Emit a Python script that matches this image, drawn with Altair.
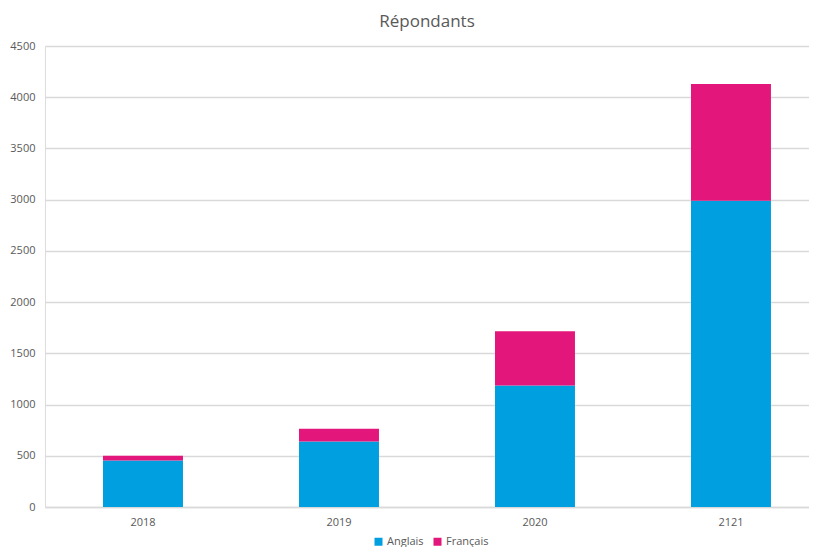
import altair as alt
import pandas as pd

years = ["2018", "2019", "2020", "2121"]
anglais = [455, 640, 1185, 2990]
francais = [45, 125, 530, 1140]
series = ["Anglais", "Français"]
colors = ["#009FDF", "#E3177B"]

rows = []
for i, y in enumerate(years):
    rows.append({"Année": y, "Langue": series[0], "Répondants": anglais[i], "ordre": 0})
    rows.append({"Année": y, "Langue": series[1], "Répondants": francais[i], "ordre": 1})
df = pd.DataFrame(rows)

font = "Open Sans"
grey = "#595959"

chart = alt.Chart(df).mark_bar().encode(
    x=alt.X("Année:N", sort=years,
            scale=alt.Scale(paddingInner=0.592, paddingOuter=0.245, align=0.604),
            axis=alt.Axis(title=None, labelAngle=0, tickSize=0, labelPadding=9,
                          domainColor="#D9D9D9", domainWidth=1.3, labelColor=grey,
                          labelFont=font, labelFontSize=11, grid=False)),
    y=alt.Y("Répondants:Q", stack="zero",
            scale=alt.Scale(domain=[0, 4500], nice=False),
            axis=alt.Axis(title=None, values=list(range(0, 4501, 500)), format="d",
                          tickSize=0, labelPadding=10, domain=False,
                          gridColor="#D9D9D9", gridWidth=1.3, labelColor=grey,
                          labelFont=font, labelFontSize=11)),
    color=alt.Color("Langue:N", sort=series,
                    scale=alt.Scale(domain=series, range=colors),
                    legend=alt.Legend(title=None, orient="none", direction="horizontal",
                                      legendX=328, legendY=490, symbolType="square",
                                      symbolSize=64, labelFont=font, labelFontSize=11,
                                      labelColor=grey, padding=0, columnPadding=8,
                                      labelOffset=3, symbolStrokeWidth=0)),
    order=alt.Order("ordre:Q", sort="ascending"),
).properties(
    width=764,
    height=461,
    title=alt.TitleParams("Répondants", font=font, fontSize=17, fontWeight="normal",
                          color=grey, anchor="middle", offset=9),
    autosize=alt.AutoSizeParams(type="none"),
    padding={"left": 37, "top": 38, "right": 0, "bottom": 40},
).configure_view(stroke=None).configure(background="white")

chart.save("out.html", embed_options={"renderer": "svg", "actions": False})
